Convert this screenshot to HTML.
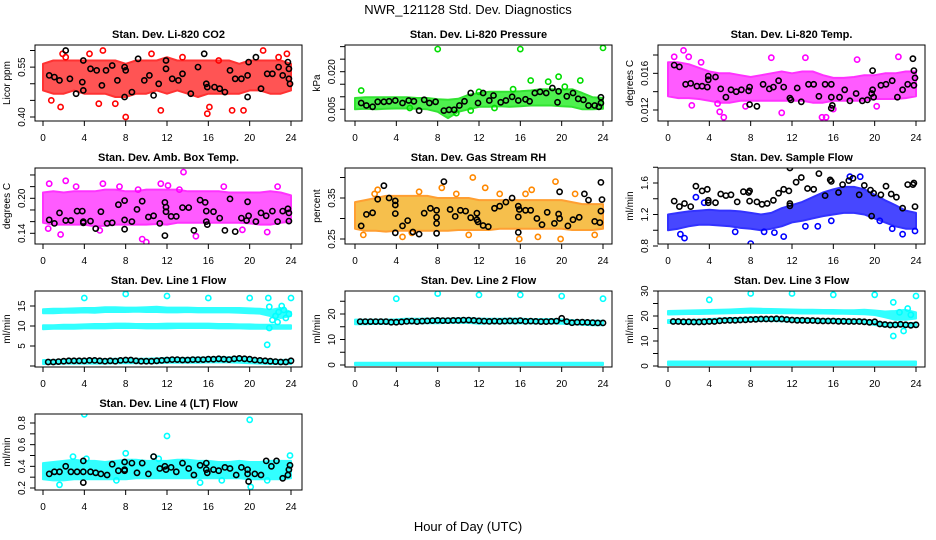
<!DOCTYPE html>
<html><head><meta charset="utf-8">
<style>
html,body{margin:0;padding:0;background:#fff;}
svg{display:block;font-family:"Liberation Sans",Arial,sans-serif;}
</style></head>
<body>
<svg id="chart" width="936" height="540" viewBox="0 0 936 540" xmlns="http://www.w3.org/2000/svg">
<text x="468" y="14" font-size="13" text-anchor="middle">NWR_121128  Std. Dev. Diagnostics</text>
<text x="468" y="531" font-size="13" text-anchor="middle">Hour of Day (UTC)</text>
</svg>
<script>
// ---------- data ----------
const hours = [0,1,2,3,4,5,6,7,8,9,10,11,12,13,14,15,16,17,18,19,20,21,22,23,24];
const xTicks = [0,4,8,12,16,20,24];
const lineHours = [0.5,1,1.5,2,2.5,3,3.5,4,4.5,5,5.5,6,6.5,7,7.5,8,8.5,9,9.5,10,10.5,11,11.5,12,12.5,13,13.5,14,14.5,15,15.5,16,16.5,17,17.5,18,18.5,19,19.5,20,20.5,21,21.5,22,22.5,23,23.5,24];

// CO2
const co2Lo = [0.48,0.47,0.47,0.48,0.47,0.47,0.47,0.46,0.46,0.47,0.47,0.48,0.47,0.48,0.47,0.46,0.47,0.47,0.47,0.47,0.48,0.48,0.47,0.47,0.48];
const co2Hi = [0.56,0.57,0.57,0.57,0.57,0.57,0.57,0.57,0.56,0.57,0.57,0.57,0.58,0.57,0.57,0.57,0.57,0.57,0.57,0.56,0.57,0.57,0.57,0.57,0.56];
const co2OutX = [1.7,2.2,5.8,8,10.5,11.4,13.5,15.9,21.3,23.6,19.4,4.5,0.8,17,7,1.9,16.1,18.3,22.8,5.4];
const co2OutY = [0.43,0.58,0.60,0.40,0.59,0.42,0.58,0.41,0.60,0.59,0.42,0.59,0.45,0.57,0.44,0.59,0.43,0.42,0.58,0.44];
const co2BlkX = [0.6,1.1,1.6,2.2,2.6,3.2,3.8,3.9,3.9,4.6,5.2,5.7,6.1,6.7,7.2,7.9,7.9,8,8.6,9.2,9.8,10.3,10.7,11.2,11.9,11.9,12.5,13.1,13.5,14.3,15,15.6,15.8,15.9,16.6,17.1,17.6,18.1,18.6,19.2,19.8,19.8,19.9,20.6,21.1,21.7,22.2,22.8,23.2,23.7,23.8,23.8,23.9];
const co2BlkY = [0.525,0.52,0.51,0.60,0.515,0.47,0.505,0.57,0.48,0.545,0.54,0.495,0.54,0.555,0.51,0.55,0.46,0.54,0.475,0.575,0.51,0.525,0.465,0.50,0.545,0.57,0.515,0.51,0.53,0.47,0.55,0.59,0.50,0.49,0.49,0.485,0.475,0.54,0.515,0.515,0.46,0.525,0.565,0.58,0.485,0.53,0.53,0.55,0.525,0.565,0.545,0.515,0.50];

// Pressure
const prLo = [0.005,0.0052,0.005,0.0052,0.0053,0.0053,0.0052,0.005,0.004,0.0015,0.004,0.005,0.006,0.006,0.0062,0.006,0.0062,0.0065,0.0065,0.0065,0.0062,0.006,0.005,0.005,0.0052];
const prHi = [0.0095,0.0098,0.0098,0.0098,0.0098,0.0098,0.0095,0.0095,0.009,0.0088,0.0092,0.0108,0.0115,0.012,0.012,0.012,0.0122,0.0125,0.013,0.013,0.0128,0.013,0.0115,0.0098,0.0095];
const prOutX = [8,16,24,0.6,17,19.7,18.7,11.2,5.3,13.5,21.8,12,15.3,20.3,9.8];
const prOutY = [0.029,0.029,0.0295,0.0125,0.0165,0.018,0.016,0.0045,0.0055,0.0055,0.0165,0.012,0.013,0.014,0.0035];
const prBlkX = [0.6,1.1,1.7,2.2,2.8,3.3,3.9,4.6,5.2,5.7,6.2,6.7,7.2,7.8,8.6,9.1,9.6,10.1,10.6,11.2,11.9,12.4,13,13.4,14.1,14.6,15.2,15.8,16.5,16.9,17.4,17.9,18.5,19.1,19.6,19.7,20.5,21.1,21.6,22.1,22.6,23.2,23.6,23.8,23.8];
const prBlkY = [0.0075,0.0065,0.006,0.008,0.008,0.0082,0.0085,0.0075,0.0085,0.0082,0.0045,0.0088,0.0075,0.008,0.0045,0.0048,0.0048,0.0065,0.0082,0.0115,0.0075,0.0115,0.0085,0.0105,0.0078,0.0085,0.01,0.0085,0.009,0.0082,0.0115,0.012,0.0115,0.0135,0.0078,0.0122,0.0102,0.0115,0.0092,0.0088,0.0065,0.0065,0.006,0.0098,0.0075];

// Li-820 Temp
const tpLo = [0.0135,0.0133,0.0133,0.0132,0.013,0.0128,0.0128,0.013,0.013,0.013,0.013,0.013,0.013,0.013,0.0128,0.0128,0.013,0.013,0.013,0.013,0.0132,0.0132,0.0132,0.0133,0.0135];
const tpHi = [0.0172,0.0172,0.017,0.0166,0.0162,0.016,0.016,0.0158,0.0156,0.0158,0.016,0.0162,0.016,0.0162,0.0162,0.0158,0.0155,0.0155,0.0156,0.0158,0.0158,0.016,0.016,0.0162,0.0162];
const tpOutX = [1.5,2,3.2,5.4,5,14.9,15.3,10,13.3,18.3,22.3,11,0.6,2.3,7.5,20.2,16,4.8];
const tpOutY = [0.0185,0.0178,0.0172,0.0112,0.0118,0.0112,0.0112,0.0177,0.0177,0.0175,0.0178,0.0117,0.0178,0.0125,0.0124,0.0124,0.0121,0.0127];
const tpBlkX = [0.6,1.1,1.7,2.2,2.8,3.3,3.8,3.9,3.9,4.6,5.1,5.6,6.1,6.6,7.1,7.8,7.9,7.9,8.6,9.2,9.8,10.2,10.7,11.2,11.8,11.9,12.5,12.9,13.6,14.1,14.6,15.2,15.8,15.8,15.9,15.8,16.6,17.1,17.6,18.2,18.8,19.3,19.7,19.8,19.8,19.9,20.6,21.1,21.7,22.2,22.7,23.2,23.7,23.8,23.8,23.9];
const tpBlkY = [0.0169,0.0167,0.0148,0.0149,0.0146,0.0146,0.0145,0.0157,0.0153,0.0156,0.0143,0.0134,0.0142,0.014,0.0142,0.0141,0.0145,0.0126,0.0124,0.0148,0.0143,0.0145,0.0152,0.0145,0.0133,0.0131,0.0144,0.0129,0.0148,0.0148,0.0135,0.0148,0.0148,0.0134,0.0125,0.0122,0.0134,0.0142,0.013,0.0138,0.013,0.0131,0.0138,0.0142,0.0163,0.0134,0.0147,0.0148,0.0152,0.0134,0.0142,0.0148,0.0176,0.0163,0.0147,0.0155];

// Amb box temp
const abLo = [0.158,0.155,0.155,0.155,0.155,0.152,0.153,0.155,0.155,0.155,0.155,0.156,0.155,0.158,0.158,0.158,0.158,0.158,0.158,0.158,0.157,0.155,0.155,0.158,0.16];
const abHi = [0.21,0.212,0.21,0.212,0.212,0.212,0.215,0.215,0.212,0.212,0.215,0.215,0.215,0.215,0.212,0.212,0.212,0.212,0.21,0.21,0.21,0.21,0.212,0.21,0.205];
const abOutX = [0.6,2.2,3.2,5.8,7.4,9.2,11.4,13.6,13.2,9.6,10,1.7,17.5,22.7,21.7,14.8,0.5,5.5,19.3,12.1];
const abOutY = [0.225,0.23,0.22,0.225,0.22,0.215,0.225,0.245,0.215,0.13,0.125,0.138,0.22,0.22,0.142,0.135,0.148,0.145,0.146,0.222];
const abBlkX = [0.6,1.1,1.6,2.2,2.7,3.3,3.8,3.9,3.9,4.6,5.1,5.6,6.2,6.7,7.3,7.9,7.9,7.9,8.6,9.1,9.6,10.2,10.7,11.3,11.8,11.9,11.9,11.8,12.4,12.9,13.5,14.1,14.6,15.2,15.7,15.8,15.8,15.9,16.5,17.1,17.6,18.1,18.6,19.2,19.7,19.8,19.9,20.6,21.1,21.6,22.2,22.7,23.2,23.7,23.8,23.8];
const abBlkY = [0.163,0.157,0.175,0.162,0.162,0.178,0.178,0.16,0.158,0.161,0.148,0.177,0.157,0.158,0.189,0.196,0.163,0.147,0.16,0.181,0.195,0.168,0.17,0.157,0.193,0.185,0.177,0.136,0.169,0.169,0.184,0.184,0.145,0.197,0.193,0.178,0.16,0.155,0.177,0.166,0.145,0.199,0.143,0.166,0.162,0.194,0.17,0.16,0.175,0.17,0.178,0.16,0.178,0.182,0.175,0.161];

// Gas stream RH
const rhLo = [0.275,0.27,0.27,0.268,0.27,0.27,0.27,0.27,0.27,0.27,0.272,0.272,0.272,0.272,0.275,0.275,0.275,0.275,0.275,0.275,0.275,0.272,0.272,0.272,0.275];
const rhHi = [0.34,0.345,0.35,0.355,0.355,0.355,0.355,0.355,0.35,0.35,0.35,0.35,0.345,0.345,0.345,0.345,0.345,0.345,0.345,0.345,0.345,0.34,0.335,0.335,0.335];
const rhOutX = [11.4,19.4,2.2,8.4,12.6,17.1,0.8,4.6,15.9,19.9,17.7,11,1.9,6.2,9.8,14,21.3,23.2,5.5,16.5];
const rhOutY = [0.40,0.39,0.37,0.375,0.375,0.37,0.26,0.255,0.25,0.25,0.255,0.26,0.36,0.365,0.36,0.36,0.36,0.26,0.265,0.36];
const rhBlkX = [0.6,1.1,1.7,2.2,2.8,3.3,3.9,3.9,3.9,3.9,4.6,5.1,5.6,6.2,6.7,7.3,7.9,7.9,7.9,7.9,8.6,9.2,9.7,10.2,10.7,11.2,11.8,11.8,11.9,12.4,12.9,13.5,14,14.6,15.2,15.8,15.9,15.8,15.8,16.5,17,17.6,18.1,18.6,19.3,19.7,19.8,19.8,20.6,21.1,21.7,22.2,22.6,23.2,23.7,23.8,23.8,23.9];
const rhBlkY = [0.282,0.31,0.314,0.347,0.38,0.35,0.343,0.333,0.312,0.265,0.282,0.295,0.267,0.262,0.313,0.325,0.303,0.32,0.288,0.264,0.39,0.322,0.305,0.32,0.318,0.302,0.313,0.297,0.292,0.283,0.28,0.325,0.33,0.34,0.35,0.33,0.322,0.304,0.266,0.32,0.32,0.30,0.285,0.315,0.288,0.311,0.30,0.365,0.282,0.297,0.303,0.36,0.345,0.293,0.29,0.318,0.388,0.346];

// Sample flow
const sfLo = [1.0,1.02,1.05,1.07,1.07,1.06,1.05,1.03,1.02,1.0,1.02,1.05,1.1,1.12,1.15,1.18,1.2,1.22,1.22,1.2,1.15,1.1,1.05,1.02,1.02];
const sfHi = [1.2,1.22,1.24,1.25,1.26,1.25,1.25,1.24,1.22,1.2,1.22,1.28,1.32,1.36,1.42,1.48,1.52,1.55,1.55,1.52,1.45,1.38,1.32,1.25,1.22];
const sfOutX = [1.6,8,11.2,2.7,17.6,18.6,13.3,23.9,22.7,1.2,3.5,6.5,10.3,14.5,15.8,20.5,21.7,9.3];
const sfOutY = [0.90,0.83,0.92,1.42,1.68,1.68,1.05,0.99,0.95,0.95,1.35,0.98,0.97,1.05,1.12,1.12,1.02,0.98];
const sfBlkX = [0.6,1.1,1.6,2.2,2.7,3.3,3.8,3.9,3.9,4.6,5.1,5.6,6.1,6.7,7.3,7.8,7.9,7.9,8.6,9.1,9.6,10.2,10.7,11.2,11.7,11.8,11.8,11.8,12.4,12.9,13.5,14.1,14.6,15.2,15.7,15.8,16.5,16.9,17.5,17.9,18.5,19,19.6,19.7,19.9,20.6,21.1,21.6,22.1,22.7,23.2,23.7,23.8,23.9];
const sfBlkY = [1.37,1.3,1.34,1.3,1.56,1.5,1.52,1.38,1.35,1.35,1.46,1.44,1.45,1.36,1.49,1.48,1.5,1.37,1.36,1.33,1.34,1.38,1.47,1.52,1.5,1.34,1.31,1.79,1.61,1.67,1.53,1.52,1.72,1.44,1.64,1.62,1.48,1.58,1.63,1.66,1.45,1.57,1.51,1.18,1.47,1.45,1.56,1.46,1.42,1.28,1.58,1.58,1.6,1.3];

// Line 1 flow
const l1UpLo = [13.2,13.2,13.3,13.3,13.4,13.3,13.5,13.5,13.5,13.6,13.5,13.5,13.4,13.4,13.5,13.4,13.4,13.4,13.4,13.3,13.2,13.1,12.5,12.0,12.5];
const l1UpHi = [14.2,14.3,14.3,14.4,14.5,14.5,14.7,14.7,14.6,14.6,14.7,14.8,14.6,14.6,14.6,14.5,14.5,14.5,14.5,14.5,14.4,14.3,14.0,14.5,13.5];
const l1MidLo = [9.2,9.3,9.3,9.3,9.4,9.4,9.4,9.5,9.5,9.5,9.4,9.4,9.4,9.5,9.5,9.5,9.5,9.4,9.4,9.4,9.3,9.3,9.3,9.3,9.3];
const l1MidHi = [10.2,10.2,10.3,10.3,10.4,10.5,10.5,10.6,10.6,10.5,10.5,10.5,10.6,10.6,10.6,10.6,10.6,10.5,10.5,10.4,10.4,10.3,10.3,10.2,10.2];
const l1LowLo = [0.5,0.5,0.6,0.6,0.6,0.6,0.6,0.7,0.7,0.7,0.7,0.7,0.8,0.8,0.8,0.8,0.9,0.9,0.9,0.8,0.7,0.6,0.5,0.5,0.5];
const l1LowHi = [1.5,1.5,1.6,1.7,1.7,1.7,1.7,1.8,1.8,1.8,1.8,1.9,2.0,2.0,2.0,2.1,2.1,2.2,2.2,2.1,1.9,1.7,1.6,1.5,1.6];
const l1OutX = [4,8,12,16,20,21.8,21.7,21.9,22.2,22.5,22.8,23.1,23.3,23.5,23.8,24,22.7,21.9];
const l1OutY = [17,18,17.5,17,17,17,5.3,14.8,11.5,12.5,13.5,15,14,12,13,17,11,9.5];
const l1Blk = [1.0,1.0,1.1,1.2,1.3,1.3,1.3,1.3,1.4,1.4,1.3,1.2,1.3,1.2,1.4,1.5,1.5,1.3,1.2,1.2,1.2,1.3,1.4,1.5,1.6,1.6,1.5,1.5,1.6,1.6,1.6,1.7,1.7,1.8,1.7,1.6,1.8,1.9,1.8,1.7,1.5,1.4,1.3,1.2,1.1,1.0,1.0,1.3];

// Line 2 flow
const l2Lo = [16.0,16.0,16.1,16.1,16.2,16.3,16.3,16.4,16.4,16.5,16.5,16.5,16.2,16.3,16.3,16.3,16.4,16.3,16.3,16.3,16.2,16.0,15.8,15.6,15.6];
const l2Hi = [17.8,17.8,17.8,17.8,17.9,18.2,18.1,18.2,18.2,18.2,18.3,18.3,18.2,18.1,18.1,18.2,18.2,18.0,18.0,18.0,17.9,17.6,17.5,17.4,17.3];
const l2BotLo = [0,0,0,0,0,0,0,0,0,0,0,0,0,0,0,0,0,0,0,0,0,0,0,0,0];
const l2BotHi = [0.9,0.9,0.9,0.9,0.9,0.9,0.9,0.9,0.9,0.9,0.9,0.9,0.9,0.9,0.9,0.9,0.9,0.9,0.9,0.9,0.9,0.9,0.9,0.9,0.9];
const l2OutX = [4,8,12,16,20,24];
const l2OutY = [26,28,27.5,27.5,27,26];
const l2Blk = [17.0,17.0,17.0,17.0,17.0,17.0,16.8,16.8,16.9,17.1,17.2,17.0,17.2,17.3,17.4,17.5,17.4,17.4,17.5,17.5,17.6,17.6,17.5,17.3,17.2,17.1,17.2,17.1,17.2,17.3,17.2,17.4,17.1,17.2,17.1,17.0,17.0,17.1,17.2,18.3,17.0,16.6,16.8,16.8,16.7,16.6,16.5,16.5];

// Line 3 flow
const l3UpLo = [20.6,20.7,20.8,20.8,20.9,21.0,21.1,21.2,21.3,21.2,21.2,21.1,21.1,21.0,21.0,21.0,20.9,20.9,20.8,20.7,20.4,19.5,18.5,18.5,19.0];
const l3UpHi = [22.0,22.1,22.2,22.3,22.4,22.5,22.6,22.8,23.0,22.9,22.8,22.7,22.6,22.5,22.5,22.4,22.4,22.3,22.3,22.5,22.2,21.8,22.0,22.5,21.5];
const l3MidLo = [17.2,17.2,17.2,17.3,17.4,17.6,17.8,17.8,18.0,18.0,18.0,17.9,17.8,17.7,17.6,17.5,17.5,17.4,17.3,17.2,16.4,15.8,15.8,15.8,15.8];
const l3MidHi = [18.4,18.4,18.4,18.6,18.8,19.0,19.2,19.2,19.4,19.4,19.4,19.3,19.1,19.0,18.9,18.8,18.8,18.7,18.6,18.5,17.8,17.2,17.2,17.2,17.2];
const l3BotLo = [0.4,0.4,0.4,0.4,0.4,0.4,0.4,0.4,0.4,0.4,0.4,0.4,0.4,0.4,0.4,0.4,0.4,0.4,0.4,0.4,0.4,0.4,0.4,0.4,0.4];
const l3BotHi = [1.8,1.8,1.8,1.8,1.8,1.8,1.8,1.8,1.8,1.8,1.8,1.8,1.8,1.8,1.8,1.8,1.8,1.8,1.8,1.8,1.8,1.8,1.8,1.8,1.8];
const l3OutX = [4,8,12,16,20,24,21.8,22.8,21.8,23.2,22.4,23.5];
const l3OutY = [26.5,29,29,28.5,28.5,28,12,14,25.5,23,21.5,20.5];
const l3Blk = [17.8,17.8,17.7,17.7,17.6,17.6,17.7,17.8,17.8,18.1,18.2,18.3,18.3,18.4,18.5,18.6,18.7,18.8,18.8,18.8,18.9,18.8,18.6,18.4,18.3,18.3,18.2,18.2,18.1,18.0,18.0,18.0,17.9,17.9,17.8,17.8,17.8,17.7,17.5,17.7,16.8,16.6,16.4,16.5,16.7,16.5,16.3,16.5];

// Line 4 flow
const l4Lo = [0.28,0.27,0.27,0.28,0.28,0.28,0.28,0.28,0.28,0.29,0.29,0.29,0.29,0.29,0.29,0.29,0.29,0.29,0.29,0.29,0.28,0.28,0.28,0.28,0.29];
const l4Hi = [0.43,0.44,0.45,0.46,0.45,0.45,0.44,0.45,0.46,0.46,0.45,0.45,0.45,0.46,0.46,0.45,0.45,0.44,0.44,0.45,0.44,0.44,0.45,0.45,0.45];
const l4OutX = [4,12,20,1.6,20.1,8,23.9,2.9,10.7,15.2,7.1,17.3,4.2,11.2,21.7];
const l4OutY = [0.88,0.68,0.83,0.23,0.21,0.52,0.5,0.49,0.49,0.25,0.27,0.27,0.47,0.47,0.27];
const l4BlkX = [0.6,1.1,1.6,2.2,2.7,3.3,3.9,3.9,3.9,4.6,5.1,5.6,6.2,6.7,7.3,7.9,7.9,7.9,8.6,9.1,9.6,10.2,10.7,11.3,11.8,11.9,12.4,12.9,13.5,14.1,14.6,15.2,15.8,15.8,15.9,16.5,17,17.6,18.1,18.7,19.2,19.8,19.8,19.9,20.5,21.1,21.6,22.1,22.6,23.2,23.7,23.8,23.9];
const l4BlkY = [0.33,0.35,0.35,0.4,0.35,0.35,0.45,0.35,0.25,0.35,0.34,0.33,0.32,0.42,0.36,0.44,0.37,0.36,0.43,0.34,0.43,0.33,0.49,0.38,0.4,0.37,0.39,0.35,0.43,0.38,0.32,0.41,0.43,0.37,0.34,0.37,0.36,0.39,0.38,0.32,0.39,0.37,0.33,0.26,0.33,0.32,0.45,0.4,0.45,0.29,0.32,0.37,0.41];

// ---------- layout ----------
const svg = document.getElementById('chart');
const NS = 'http://www.w3.org/2000/svg';
const cols = [{l:35,r:302,x0:43,x24:291},{l:345,r:612,x0:355,x24:603},{l:658,r:925,x0:668,x24:916}];
const rowTop = [45,168,291,414];
const H = 76;

function mk(tag, attrs, parent){
  const e = document.createElementNS(NS, tag);
  for (const k in attrs) e.setAttribute(k, attrs[k]);
  (parent||svg).appendChild(e);
  return e;
}

function panel(cfg){
  const c = cols[cfg.col], top = rowTop[cfg.row], bot = top + H;
  const g = mk('g', {});
  
  
  const xs = h => c.x0 + (c.x24 - c.x0) * h / 24;
  const ys = v => cfg.p1 + (v - cfg.v1) * (cfg.p2 - cfg.p1) / (cfg.v2 - cfg.v1);
  const cx = (c.l + c.r) / 2;
  const t = mk('text', {x: cx, y: top - 7, 'font-size': 11, 'font-weight': 'bold', 'text-anchor': 'middle'}, g);
  t.textContent = cfg.title;
  
  
  const clip = 'clip-' + cfg.name;
  const cp = mk('clipPath', {id: clip}, g);
  mk('rect', {x: c.l, y: top, width: c.r - c.l, height: H}, cp);
  const plot = mk('g', {'clip-path': 'url(#' + clip + ')'}, g);
  (cfg.bands || []).forEach(b => {
    let d = '';
    hours.forEach((h, i) => { d += (i ? 'L' : 'M') + xs(h).toFixed(1) + ' ' + ys(b[1][i]).toFixed(1); });
    for (let i = hours.length - 1; i >= 0; i--) d += 'L' + xs(hours[i]).toFixed(1) + ' ' + ys(b[0][i]).toFixed(1);
    const p = mk('path', {d: d + 'Z', fill: cfg.fill, stroke: cfg.color, 'stroke-width': 2, 'stroke-linejoin': 'round', opacity: 0.8}, plot);
    
    
  });
  const pts = (X, Y, col) => X.forEach((h, i) => {
    const e = mk('circle', {cx: xs(h).toFixed(1), cy: ys(Y[i]).toFixed(1), r: 2.6, fill: 'none', stroke: col, 'stroke-width': 1.6}, plot);
    
    
  });
  pts(cfg.outX, cfg.outY, cfg.color);
  pts(cfg.blkX, cfg.blkY, '#000');
  const bx = mk('rect', {x: c.l, y: top, width: c.r - c.l, height: H, fill: 'none', stroke: '#000', 'stroke-width': 1}, g);
  
  
  xTicks.forEach(h => {
    mk('line', {x1: xs(h), x2: xs(h), y1: bot, y2: bot + 5, stroke: '#000'}, g);
    const tl = mk('text', {x: xs(h), y: bot + 20, 'font-size': 10, 'text-anchor': 'middle'}, g);
    tl.textContent = h;
    
    
  });
  cfg.ticks.forEach((v, i) => {
    const y = ys(v);
    mk('line', {x1: c.l - 5, x2: c.l, y1: y, y2: y, stroke: '#000'}, g);
    if (cfg.labels[i]) {
      const tl = mk('text', {x: c.l - 10, y: y, 'font-size': 10, 'text-anchor': 'middle', transform: 'rotate(-90 ' + (c.l - 10) + ' ' + y + ')'}, g);
      tl.textContent = cfg.labels[i];
      
      
    }
  });
  const yl = mk('text', {x: c.l - 25, y: top + H / 2, 'font-size': 10, 'text-anchor': 'middle', transform: 'rotate(-90 ' + (c.l - 25) + ' ' + (top + H / 2) + ')'}, g);
  yl.textContent = cfg.ylab;
  
  
}

panel({name:'panel-co2', title:'Stan. Dev. Li-820 CO2', ylab:'Licor ppm', col:0, row:0, v1:0.40, p1:117, v2:0.60, p2:50.5,
  ticks:[0.40,0.45,0.50,0.55,0.60], labels:['0.40','','','0.55',''], color:'#ff0000', fill:'#ff2a2a',
  bands:[[co2Lo,co2Hi]], outX:co2OutX, outY:co2OutY, blkX:co2BlkX, blkY:co2BlkY});
panel({name:'panel-pressure', title:'Stan. Dev. Li-820 Pressure', ylab:'kPa', col:1, row:0, v1:0.005, p1:109.3, v2:0.020, p2:71.7,
  ticks:[0.005,0.010,0.015,0.020,0.025,0.030], labels:['0.005','','','0.020','',''], color:'#00dd00', fill:'#22ee22',
  bands:[[prLo,prHi]], outX:prOutX, outY:prOutY, blkX:prBlkX, blkY:prBlkY});
panel({name:'panel-temp', title:'Stan. Dev. Li-820 Temp.', ylab:'degrees C', col:2, row:0, v1:0.012, p1:110, v2:0.018, p2:55,
  ticks:[0.012,0.014,0.016,0.018], labels:['0.012','','0.016',''], color:'#ff00ff', fill:'#ff33ff',
  bands:[[tpLo,tpHi]], outX:tpOutX, outY:tpOutY, blkX:tpBlkX, blkY:tpBlkY});
panel({name:'panel-amb-box', title:'Stan. Dev. Amb. Box Temp.', ylab:'degrees C', col:0, row:1, v1:0.14, p1:233.3, v2:0.20, p2:198.3,
  ticks:[0.14,0.16,0.18,0.20,0.22,0.24], labels:['0.14','','','0.20','',''], color:'#ff00ff', fill:'#ff33ff',
  bands:[[abLo,abHi]], outX:abOutX, outY:abOutY, blkX:abBlkX, blkY:abBlkY});
panel({name:'panel-rh', title:'Stan. Dev. Gas Stream RH', ylab:'percent', col:1, row:1, v1:0.25, p1:239, v2:0.35, p2:198,
  ticks:[0.25,0.30,0.35,0.40], labels:['0.25','','0.35',''], color:'#ff8800', fill:'#f5b020',
  bands:[[rhLo,rhHi]], outX:rhOutX, outY:rhOutY, blkX:rhBlkX, blkY:rhBlkY});
panel({name:'panel-sample-flow', title:'Stan. Dev. Sample Flow', ylab:'ml/min', col:2, row:1, v1:0.8, p1:246, v2:1.6, p2:183,
  ticks:[0.8,1.0,1.2,1.4,1.6,1.8], labels:['0.8','','1.2','','1.6',''], color:'#0000ff', fill:'#1a1aff',
  bands:[[sfLo,sfHi]], outX:sfOutX, outY:sfOutY, blkX:sfBlkX, blkY:sfBlkY});
panel({name:'panel-line1', title:'Stan. Dev. Line 1 Flow', ylab:'ml/min', col:0, row:2, v1:0, p1:366, v2:15, p2:306,
  ticks:[0,5,10,15], labels:['','5','10','15'], color:'#00ffff', fill:'#00ffff',
  bands:[[l1UpLo,l1UpHi],[l1MidLo,l1MidHi],[l1LowLo,l1LowHi]], outX:l1OutX, outY:l1OutY, blkX:lineHours, blkY:l1Blk});
panel({name:'panel-line2', title:'Stan. Dev. Line 2 Flow', ylab:'ml/min', col:1, row:2, v1:0, p1:365, v2:20, p2:314,
  ticks:[0,5,10,15,20,25], labels:['0','','10','','20',''], color:'#00ffff', fill:'#00ffff',
  bands:[[l2Lo,l2Hi],[l2BotLo,l2BotHi]], outX:l2OutX, outY:l2OutY, blkX:lineHours, blkY:l2Blk});
panel({name:'panel-line3', title:'Stan. Dev. Line 3 Flow', ylab:'ml/min', col:2, row:2, v1:0, p1:366, v2:30, p2:291,
  ticks:[0,5,10,15,20,25,30], labels:['0','','10','','20','','30'], color:'#00ffff', fill:'#00ffff',
  bands:[[l3UpLo,l3UpHi],[l3MidLo,l3MidHi],[l3BotLo,l3BotHi]], outX:l3OutX, outY:l3OutY, blkX:lineHours, blkY:l3Blk});
panel({name:'panel-line4', title:'Stan. Dev. Line 4 (LT) Flow', ylab:'ml/min', col:0, row:3, v1:0.2, p1:488, v2:0.8, p2:423,
  ticks:[0.2,0.3,0.4,0.5,0.6,0.7,0.8], labels:['0.2','','0.4','','0.6','','0.8'], color:'#00ffff', fill:'#00ffff',
  bands:[[l4Lo,l4Hi]], outX:l4OutX, outY:l4OutY, blkX:l4BlkX, blkY:l4BlkY});
</script>
</body></html>
